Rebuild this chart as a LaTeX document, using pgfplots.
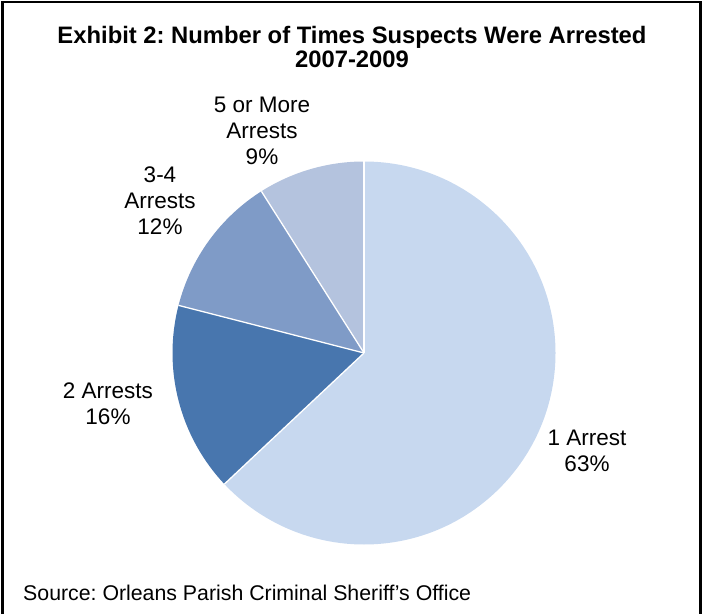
\documentclass[border=0pt]{standalone}
\usepackage{fontspec}
\setmainfont{Liberation Sans}
\usepackage{pgfplots}
\usepackage{pgfplotstable}
\pgfplotsset{compat=1.18}
\frenchspacing
\definecolor{sliceA}{HTML}{C7D8EF}
\definecolor{sliceB}{HTML}{4876AE}
\definecolor{sliceC}{HTML}{7F9BC7}
\definecolor{sliceD}{HTML}{B4C3DE}

\pgfplotstableread[col sep=comma]{
label,value
1 Arrest,63
2 Arrests,16
3-4 Arrests,12
5 or More Arrests,9
}\piedata

\pgfplotstablegetelem{0}{value}\of\piedata \let\vA\pgfplotsretval
\pgfplotstablegetelem{1}{value}\of\piedata \let\vB\pgfplotsretval
\pgfplotstablegetelem{2}{value}\of\piedata \let\vC\pgfplotsretval
\pgfplotstablegetelem{3}{value}\of\piedata \let\vD\pgfplotsretval
\pgfmathsetmacro\aA{90}
\pgfmathsetmacro\aB{\aA-3.6*\vA}
\pgfmathsetmacro\aC{\aB-3.6*\vB}
\pgfmathsetmacro\aD{\aC-3.6*\vC}
\pgfmathsetmacro\aE{\aD-3.6*\vD}
\def\R{191.5pt}

\begin{document}
\frenchspacing
\begin{tikzpicture}
\begin{axis}[width=703pt,height=614pt,scale only axis,
  xmin=0,xmax=703,ymin=0,ymax=614,hide axis,clip=false]
\path (axis cs:0,0) (axis cs:703,614);
% slices
\fill[sliceA] (axis cs:364,261) -- ++(\aA:\R) arc[start angle=\aA,end angle=\aB,radius=\R] -- cycle;
\fill[sliceB] (axis cs:364,261) -- ++(\aB:\R) arc[start angle=\aB,end angle=\aC,radius=\R] -- cycle;
\fill[sliceC] (axis cs:364,261) -- ++(\aC:\R) arc[start angle=\aC,end angle=\aD,radius=\R] -- cycle;
\fill[sliceD] (axis cs:364,261) -- ++(\aD:\R) arc[start angle=\aD,end angle=\aE,radius=\R] -- cycle;
\draw[white,line width=1.3pt] (axis cs:364,261) -- ++(\aA:\R);
\draw[white,line width=1.3pt] (axis cs:364,261) -- ++(\aB:\R);
\draw[white,line width=1.3pt] (axis cs:364,261) -- ++(\aC:\R);
\draw[white,line width=1.3pt] (axis cs:364,261) -- ++(\aD:\R);
% labels
\node[align=center,font=\fontsize{22.5}{26}\selectfont] at (axis cs:587,163) {1 Arrest\\63\%};
\node[align=center,font=\fontsize{22.5}{26}\selectfont] at (axis cs:108,210) {2 Arrests\\16\%};
\node[align=center,font=\fontsize{22.5}{26}\selectfont] at (axis cs:160,413) {3-4\\Arrests\\12\%};
\node[align=center,font=\fontsize{22.5}{26}\selectfont] at (axis cs:262,483) {5 or More\\Arrests\\9\%};
% title
\node[anchor=base,font=\fontsize{23.8}{26}\selectfont\bfseries\frenchspacing,inner sep=0pt] at (axis cs:352,570) {Exhibit 2: Number of Times Suspects Were Arrested};
\node[anchor=base,font=\fontsize{23.8}{26}\selectfont\bfseries,inner sep=0pt] at (axis cs:352,546) {2007-2009};
% source
\node[anchor=base west,font=\fontsize{21.3}{24}\selectfont\frenchspacing,inner sep=0pt] at (axis cs:23,14) {Source: Orleans Parish Criminal Sheriff's Office};
% frame
\draw[line width=2.5pt] (axis cs:2.5,0) -- (axis cs:2.5,611.75) -- (axis cs:700.5,611.75) -- (axis cs:700.5,0);
\end{axis}
\end{tikzpicture}
\end{document}
